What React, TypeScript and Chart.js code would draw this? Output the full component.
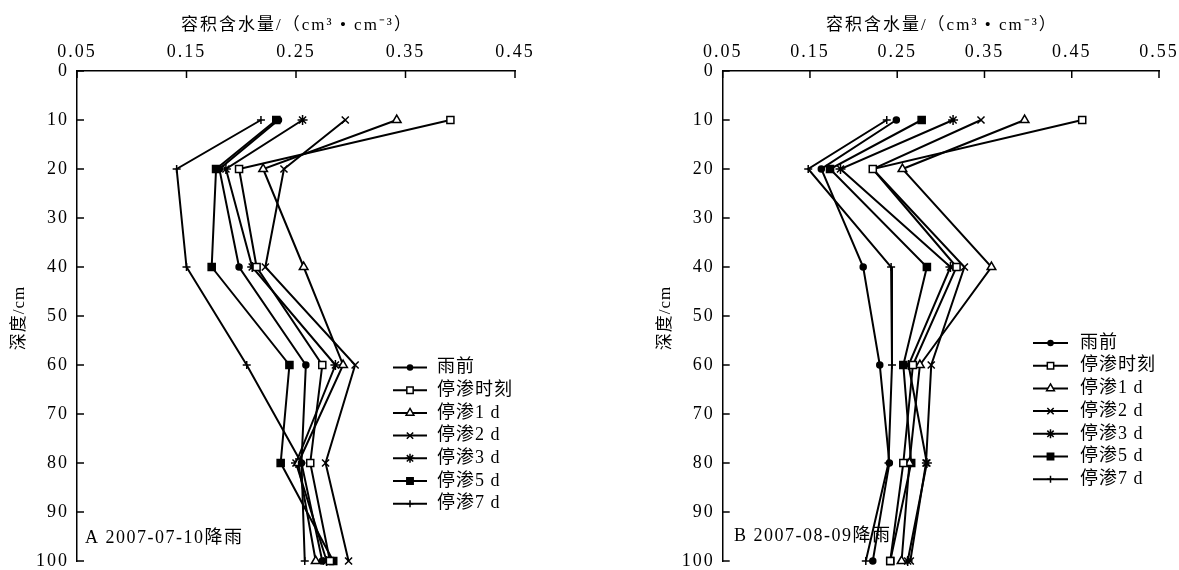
import React, { useEffect, useRef } from 'react';
import { Chart, registerables } from 'chart.js';
import { drawPoint } from 'chart.js/helpers';

Chart.register(...registerables);

// ---------- data ----------
const depths = [10, 20, 40, 60, 80, 100];
const seriesNames = ['雨前', '停渗时刻', '停渗1 d', '停渗2 d', '停渗3 d', '停渗5 d', '停渗7 d'];

// Panel A: 2007-07-10 rain
const aBefore = [0.234, 0.180, 0.198, 0.259, 0.255, 0.274];
const aStop = [0.391, 0.198, 0.214, 0.274, 0.263, 0.281];
const aDay1 = [0.342, 0.220, 0.257, 0.293, 0.252, 0.268];
const aDay2 = [0.295, 0.239, 0.222, 0.304, 0.277, 0.298];
const aDay3 = [0.256, 0.186, 0.210, 0.286, 0.250, 0.278];
const aDay5 = [0.232, 0.177, 0.173, 0.244, 0.236, 0.284];
const aDay7 = [0.218, 0.141, 0.150, 0.205, 0.255, 0.258];

// Panel B: 2007-08-09 rain
const bBefore = [0.249, 0.163, 0.211, 0.230, 0.241, 0.222];
const bStop = [0.462, 0.222, 0.318, 0.268, 0.257, 0.242];
const bDay1 = [0.396, 0.256, 0.358, 0.276, 0.264, 0.255];
const bDay2 = [0.346, 0.222, 0.327, 0.289, 0.283, 0.265];
const bDay3 = [0.314, 0.185, 0.311, 0.263, 0.284, 0.262];
const bDay5 = [0.278, 0.173, 0.284, 0.257, 0.266, 0.242];
const bDay7 = [0.238, 0.148, 0.243, 0.244, 0.240, 0.214];

const xTicksA = [0.05, 0.15, 0.25, 0.35, 0.45];
const xTicksB = [0.05, 0.15, 0.25, 0.35, 0.45, 0.55];
const yTicks = [0, 10, 20, 30, 40, 50, 60, 70, 80, 90, 100];

const xTitle = '容积含水量/（cm³ • cm⁻³）';
const yTitle = '深度/cm';
const panelTextA = 'A 2007-07-10降雨';
const panelTextB = 'B 2007-08-09降雨';

// ---------- styles ----------
const markers = [
  { pointStyle: 'circle', radius: 3, fill: '#000' },
  { pointStyle: 'rect', radius: 5, fill: '#fff' },
  { pointStyle: 'triangle', radius: 5, fill: '#fff' },
  { pointStyle: 'crossRot', radius: 5, fill: '#000' },
  { pointStyle: 'star', radius: 5, fill: '#000' },
  { pointStyle: 'rect', radius: 5, fill: '#000' },
  { pointStyle: 'cross', radius: 4, fill: '#000' },
];

const LATIN = '"Liberation Serif"';
const MIXED = '"Liberation Serif", "Noto Sans CJK SC"';

type PanelOpts = {
  series: number[][];
  xTicks: number[];
  padLeft: number;
  padRight: number;
  legendX1: number;
  legendX2: number;
  legendTextX: number;
  legendY0: number;
  panelText: string;
  panelX: number;
  panelY: number;
  yTitleOffset: number;
};

function makeConfig(p: PanelOpts): any {
  const datasets = p.series.map((vals, i) => ({
    label: seriesNames[i],
    data: vals.map((v, k) => ({ x: v, y: depths[k] })),
    showLine: true,
    borderColor: '#000',
    borderWidth: 2,
    pointStyle: markers[i].pointStyle,
    pointRadius: markers[i].radius,
    pointBackgroundColor: markers[i].fill,
    pointBorderColor: '#000',
    pointBorderWidth: 1.5,
    fill: false,
    tension: 0,
    clip: false,
  }));

  const decor = {
    id: 'decor',
    beforeDraw(chart: any) {
      const ctx = chart.ctx;
      ctx.save();
      ctx.fillStyle = '#fff';
      ctx.fillRect(0, 0, chart.width, chart.height);
      ctx.restore();
      (ctx as any).letterSpacing = '2px';
    },
    afterDraw(chart: any) {
      const ctx = chart.ctx as any;
      const xs = chart.scales.x;
      const ys = chart.scales.y;
      const area = chart.chartArea;
      ctx.save();
      ctx.strokeStyle = '#000';
      ctx.lineWidth = 1.5;
      // inward ticks
      p.xTicks.forEach((v) => {
        const px = xs.getPixelForValue(v);
        ctx.beginPath();
        ctx.moveTo(px, area.top);
        ctx.lineTo(px, area.top + 7);
        ctx.stroke();
      });
      yTicks.forEach((v) => {
        const py = ys.getPixelForValue(v);
        ctx.beginPath();
        ctx.moveTo(area.left, py);
        ctx.lineTo(area.left + 7, py);
        ctx.stroke();
      });

      ctx.fillStyle = '#000';
      // x title
      ctx.letterSpacing = '2px';
      ctx.font = `17px ${MIXED}`;
      ctx.textAlign = 'center';
      ctx.textBaseline = 'middle';
      ctx.fillText(xTitle, (area.left + area.right) / 2 + 1, 26);

      // y title
      ctx.save();
      ctx.letterSpacing = '1px';
      ctx.translate(area.left - p.yTitleOffset, (area.top + area.bottom) / 2 + 2);
      ctx.rotate(-Math.PI / 2);
      ctx.font = `17px ${MIXED}`;
      ctx.textAlign = 'center';
      ctx.textBaseline = 'middle';
      ctx.fillText(yTitle, 0, 0);
      ctx.restore();

      // panel label
      ctx.letterSpacing = '1.5px';
      ctx.font = `18px ${MIXED}`;
      ctx.textAlign = 'left';
      ctx.textBaseline = 'middle';
      ctx.fillText(p.panelText, p.panelX, p.panelY);

      // legend
      chart.data.datasets.forEach((ds: any, i: number) => {
        const y = p.legendY0 + i * 22.7;
        ctx.strokeStyle = '#000';
        ctx.lineWidth = 2;
        ctx.beginPath();
        ctx.moveTo(p.legendX1, y);
        ctx.lineTo(p.legendX2, y);
        ctx.stroke();
        ctx.fillStyle = ds.pointBackgroundColor;
        ctx.strokeStyle = '#000';
        ctx.lineWidth = 1.5;
        drawPoint(ctx, {
          pointStyle: ds.pointStyle,
          radius: Math.max(ds.pointRadius - 0.5, 2.5),
          rotation: 0,
          borderWidth: 1.5,
        } as any, (p.legendX1 + p.legendX2) / 2, y);
        ctx.fillStyle = '#000';
        ctx.letterSpacing = '1px';
        ctx.font = `18px ${MIXED}`;
        ctx.textAlign = 'left';
        ctx.textBaseline = 'middle';
        ctx.fillText(ds.label, p.legendTextX, y);
      });
      ctx.restore();
    },
  };

  const tickFont = { family: LATIN, size: 18 };

  return {
    type: 'scatter',
    data: { datasets },
    options: {
      responsive: false,
      animation: false,
      events: [],
      layout: { padding: { left: p.padLeft, right: p.padRight, top: 41, bottom: 9 } },
      plugins: { legend: { display: false }, tooltip: { enabled: false }, title: { display: false } },
      scales: {
        x: {
          type: 'linear',
          position: 'top',
          min: p.xTicks[0],
          max: p.xTicks[p.xTicks.length - 1],
          afterBuildTicks: (s: any) => {
            s.ticks = p.xTicks.map((v) => ({ value: v }));
          },
          afterFit: (s: any) => {
            s.height = 30;
            s.paddingLeft = 0;
            s.paddingRight = 0;
            s.paddingTop = 0;
            s.paddingBottom = 0;
          },
          grid: { display: true, drawOnChartArea: false, drawTicks: false },
          border: { display: true, color: '#000', width: 1.5 },
          ticks: {
            color: '#000',
            font: tickFont,
            padding: 8,
            autoSkip: false,
            maxRotation: 0,
            callback: (v: any) => Number(v).toFixed(2),
          },
        },
        y: {
          type: 'linear',
          reverse: true,
          min: 0,
          max: 100,
          afterBuildTicks: (s: any) => {
            s.ticks = yTicks.map((v) => ({ value: v }));
          },
          afterFit: (s: any) => {
            s.width = 50;
            s.paddingLeft = 0;
            s.paddingRight = 0;
            s.paddingTop = 0;
            s.paddingBottom = 0;
          },
          grid: { display: true, drawOnChartArea: false, drawTicks: false },
          border: { display: true, color: '#000', width: 1.5 },
          ticks: {
            color: '#000',
            font: tickFont,
            padding: 8,
            autoSkip: false,
            callback: (v: any) => String(v),
          },
        },
      },
    },
    plugins: [decor],
  };
}

function Panel(props: { opts: PanelOpts; left: number; width: number }) {
  const ref = useRef<HTMLCanvasElement | null>(null);
  useEffect(() => {
    if (!ref.current) return;
    const chart = new Chart(ref.current, makeConfig(props.opts));
    return () => chart.destroy();
  }, []);
  return (
    <canvas
      ref={ref}
      width={props.width}
      height={570}
      style={{ position: 'absolute', left: props.left, top: 0, width: props.width, height: 570 }}
    />
  );
}

export default function App() {
  const optsA: PanelOpts = {
    series: [aBefore, aStop, aDay1, aDay2, aDay3, aDay5, aDay7],
    xTicks: xTicksA,
    padLeft: 27,
    padRight: 85,
    legendX1: 393,
    legendX2: 427,
    legendTextX: 437,
    legendY0: 367.5,
    panelText: panelTextA,
    panelX: 85,
    panelY: 538,
    yTitleOffset: 57,
  };
  const optsB: PanelOpts = {
    series: [bBefore, bStop, bDay1, bDay2, bDay3, bDay5, bDay7],
    xTicks: xTicksB,
    padLeft: 72.7,
    padRight: 20,
    legendX1: 433,
    legendX2: 468,
    legendTextX: 480,
    legendY0: 343,
    panelText: panelTextB,
    panelX: 134,
    panelY: 536,
    yTitleOffset: 57,
  };
  return (
    <div style={{ position: 'absolute', left: 0, top: 0, width: 1179, height: 570, background: '#fff', overflow: 'hidden' }}>
      <Panel opts={optsA} left={0} width={600} />
      <Panel opts={optsB} left={600} width={579} />
    </div>
  );
}
